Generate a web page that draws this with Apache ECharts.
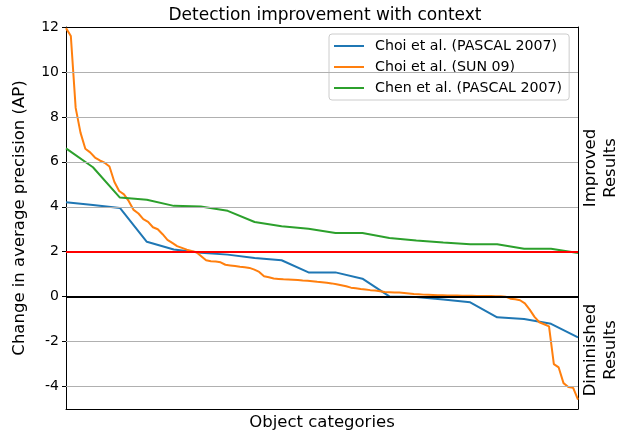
<!DOCTYPE html>
<html>
<head>
<meta charset="utf-8">
<script src="https://cdn.jsdelivr.net/npm/echarts@6/dist/echarts.min.js"></script>
<style>
  html, body { margin: 0; padding: 0; background: #fff; }
  #chart { width: 629px; height: 431px; }
</style>
</head>
<body>
<div id="chart"></div>
<script>
// values, categories sorted by improvement
var choiPascal = [4.2, 4.08, 3.95, 2.44, 2.1, 1.95, 1.87, 1.72, 1.62, 1.08,
                  1.08, 0.8, 0.01, -0.02, -0.13, -0.25, -0.92, -0.99, -1.21, -1.81];
var chenPascal = [6.6, 5.76, 4.41, 4.31, 4.04, 4.01, 3.82, 3.32, 3.13, 3.02,
                  2.83, 2.83, 2.61, 2.5, 2.41, 2.33, 2.33, 2.13, 2.13, 1.94];
var choiSun = [11.95, 11.6, 8.4, 7.3, 6.58, 6.42, 6.19, 6.06, 5.96, 5.79,
               5.11, 4.7, 4.55, 4.25, 3.86, 3.7, 3.45, 3.33, 3.09, 3.0,
               2.78, 2.53, 2.39, 2.25, 2.17, 2.09, 2.03, 1.98, 1.8, 1.62,
               1.58, 1.56, 1.53, 1.42, 1.39, 1.36, 1.33, 1.31, 1.28, 1.2,
               1.1, 0.91, 0.86, 0.81, 0.79, 0.77, 0.76, 0.75, 0.74, 0.72,
               0.71, 0.69, 0.66, 0.64, 0.62, 0.59, 0.55, 0.51, 0.46, 0.4,
               0.37, 0.34, 0.32, 0.29, 0.27, 0.24, 0.21, 0.2, 0.19, 0.18,
               0.16, 0.14, 0.12, 0.11, 0.09, 0.08, 0.07, 0.06, 0.06, 0.05,
               0.05, 0.05, 0.04, 0.04, 0.04, 0.03, 0.03, 0.03, 0.03, 0.02,
               0.02, 0.0, -0.09, -0.12, -0.16, -0.3, -0.58, -0.9, -1.14, -1.23,
               -1.32, -3.0, -3.15, -3.85, -4.02, -4.06, -4.58];
var yTicks = [12, 10, 8, 6, 4, 2, 0, -2, -4];
var gridValues = [10, 8, 6, 4, -2, -4];
var threshold = 2;
var baseline = 0;

var font = 'DejaVu Sans';
function idx(arr) { return arr.map(function (_, i) { return i; }); }

var option = {
  animation: false,
  backgroundColor: '#fff',
  textStyle: { fontFamily: font },
  title: {
    text: 'Detection improvement with context',
    left: 320, top: 2, textAlign: 'center',
    textStyle: { fontFamily: font, fontSize: 17, fontWeight: 'normal', color: '#000' }
  },
  legend: {
    orient: 'vertical', left: 329, top: 34,
    padding: [5, 7, 5, 5], itemGap: 7,
    itemWidth: 30, itemHeight: 2, icon: 'rect',
    borderColor: '#cccccc', borderWidth: 1, borderRadius: 3,
    backgroundColor: 'rgba(255,255,255,0.8)',
    textStyle: { fontFamily: font, fontSize: 14.2, color: '#000', padding: [0, 0, 0, 6] },
    data: ['Choi et al. (PASCAL 2007)', 'Choi et al. (SUN 09)', 'Chen et al. (PASCAL 2007)']
  },
  grid: { left: 66, right: 51, top: 27, bottom: 22, outerBoundsMode: 'none', containLabel: false },
  xAxis: [{
    type: 'category', data: idx(choiSun), boundaryGap: false,
    name: 'Object categories', nameLocation: 'middle', nameGap: 5,
    nameTextStyle: { fontFamily: font, fontSize: 16.5, color: '#000' },
    axisLine: { onZero: false, lineStyle: { color: '#000', width: 1 } },
    axisTick: { show: false }, axisLabel: { show: false }, splitLine: { show: false }
  }, {
    type: 'category', data: idx(choiPascal), boundaryGap: false, position: 'top',
    axisLine: { onZero: false, lineStyle: { color: '#000', width: 1 } },
    axisTick: { show: false }, axisLabel: { show: false }, splitLine: { show: false }
  }],
  yAxis: [{
    type: 'value', min: -5, max: 12,
    name: 'Change in average precision (AP)', nameLocation: 'middle', nameGap: 38,
    nameTextStyle: { fontFamily: font, fontSize: 16.5, color: '#000' },
    axisLine: { show: true, onZero: false, lineStyle: { color: '#000', width: 1 } },
    axisTick: { show: true, length: 4, customValues: yTicks, lineStyle: { color: '#000' } },
    axisLabel: { customValues: yTicks, fontFamily: font, fontSize: 14, color: '#000', margin: 7 },
    splitLine: { show: false }
  }, {
    type: 'value', min: -5, max: 12, position: 'right',
    axisLine: { show: true, onZero: false, lineStyle: { color: '#000', width: 1 } },
    axisTick: { show: false }, axisLabel: { show: false }, splitLine: { show: false }
  }],
  graphic: [{
    type: 'text', x: 601, y: 168, rotation: Math.PI / 2,
    style: { text: 'Improved\nResults', font: '16.5px "DejaVu Sans"', fill: '#000',
             align: 'center', verticalAlign: 'middle', lineHeight: 20 }
  }, {
    type: 'text', x: 601, y: 350, rotation: Math.PI / 2,
    style: { text: 'Diminished\nResults', font: '16.5px "DejaVu Sans"', fill: '#000',
             align: 'center', verticalAlign: 'middle', lineHeight: 20 }
  }],
  series: [{
    // grid lines and reference lines
    type: 'line', data: [], silent: true, z: 1,
    markLine: {
      silent: true, symbol: 'none', label: { show: false },
      data: gridValues.map(function (v) {
        return { yAxis: v, lineStyle: { color: '#b0b0b0', width: 1, type: 'solid' } };
      }).concat([
        { yAxis: threshold, lineStyle: { color: '#ff0000', width: 2, type: 'solid' } },
        { yAxis: baseline, lineStyle: { color: '#000000', width: 2, type: 'solid' } }
      ])
    }
  }, {
    name: 'Choi et al. (PASCAL 2007)', type: 'line', xAxisIndex: 1, z: 3,
    data: choiPascal, showSymbol: false, color: '#1f77b4',
    lineStyle: { width: 2 }
  }, {
    name: 'Choi et al. (SUN 09)', type: 'line', xAxisIndex: 0, z: 3,
    data: choiSun, showSymbol: false, color: '#ff7f0e',
    lineStyle: { width: 2 }
  }, {
    name: 'Chen et al. (PASCAL 2007)', type: 'line', xAxisIndex: 1, z: 3,
    data: chenPascal, showSymbol: false, color: '#2ca02c',
    lineStyle: { width: 2 }
  }]
};

var chart = echarts.init(document.getElementById('chart'));
chart.setOption(option);
</script>
</body>
</html>
